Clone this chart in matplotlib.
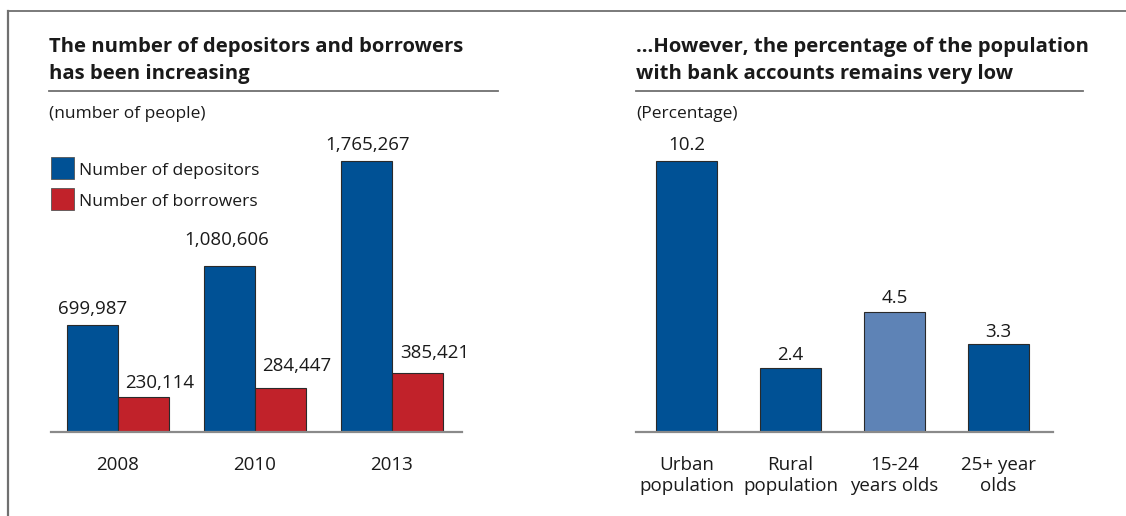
import matplotlib
matplotlib.use("Agg")
import matplotlib.pyplot as plt
from matplotlib.patches import Rectangle
from matplotlib.lines import Line2D

plt.rcParams['font.family'] = ['Open Sans', 'DejaVu Sans']

# Data
years = ["2008", "2010", "2013"]
depositors = [699987, 1080606, 1765267]
borrowers = [230114, 284447, 385421]
series_names = ["Number of depositors", "Number of borrowers"]

groups = ["Urban\npopulation", "Rural\npopulation", "15-24\nyears olds", "25+ year\nolds"]
pct = [10.2, 2.4, 4.5, 3.3]

# label placement offsets (pixels): (dx, gap above bar to baseline)
dep_off = [(0, 11), (-3, 21), (1, 11)]
bor_off = [(16, 9), (16, 17), (17, 15)]
pct_off = [(0, 11), (0, 8), (0, 9), (0, 7)]

BLUE = "#005195"
RED = "#C1222A"
LIGHT = "#5E83B6"
EDGE = "#2a2a2a"
TXT = "#1a1a1a"
GRAY = "#707070"

W, H = 1126, 516
fig = plt.figure(figsize=(W / 100, H / 100), dpi=100)
PX = 0.72  # points per pixel


def fx(px):
    return px / W


def fy(py):
    return 1 - py / H


# Frame lines
fig.add_artist(Line2D([fx(8), fx(1126)], [fy(11), fy(11)], color=GRAY, lw=1.3))
fig.add_artist(Line2D([fx(8), fx(8)], [fy(11), fy(516)], color=GRAY, lw=1.6))

LABEL_FS = 13.5
TITLE_FS = 14.6

# ---------- Left panel ----------
base_y, top_y = 432, 100
axL = fig.add_axes([fx(51), fy(base_y), fx(462) - fx(51), (base_y - top_y) / H])
ymaxL = max(depositors) * (base_y - top_y) / 271.0
axL.set_ylim(0, ymaxL)
axL.set_xlim(-0.489, 2.511)
bw = 0.37
x = list(range(len(years)))
b1 = axL.bar([i - bw / 2 for i in x], depositors, width=bw, color=BLUE, edgecolor=EDGE, linewidth=0.8,
             label=series_names[0])
b2 = axL.bar([i + bw / 2 for i in x], borrowers, width=bw, color=RED, edgecolor=EDGE, linewidth=0.8,
             label=series_names[1])
for bars, vals, offs in ((b1, depositors, dep_off), (b2, borrowers, bor_off)):
    for r, v, (dx, dy) in zip(bars, vals, offs):
        axL.annotate(f"{v:,}", (r.get_x() + r.get_width() / 2, v), xytext=(dx * PX, dy * PX),
                     textcoords="offset points", ha="center", va="baseline", fontsize=LABEL_FS, color=TXT)
for s in ("top", "right", "left"):
    axL.spines[s].set_visible(False)
axL.spines["bottom"].set_color("#8a8a8a")
axL.spines["bottom"].set_linewidth(1.6)
axL.set_yticks([])
axL.set_xticks(x)
axL.set_xticklabels(years, fontsize=LABEL_FS, color=TXT)
axL.tick_params(axis="x", length=0, pad=17)

fig.text(fx(49), fy(52), "The number of depositors and borrowers", fontsize=TITLE_FS,
         fontweight="bold", color=TXT, ha="left", va="baseline")
fig.text(fx(49), fy(79), "has been increasing", fontsize=TITLE_FS,
         fontweight="bold", color=TXT, ha="left", va="baseline")
fig.add_artist(Line2D([fx(49), fx(498)], [fy(91), fy(91)], color=GRAY, lw=1.3))
fig.text(fx(49), fy(118), "(number of people)", fontsize=12.5, color=TXT, ha="left", va="baseline")

# Legend
for name, col, ytop, ybase in ((series_names[0], BLUE, 157, 175), (series_names[1], RED, 188, 206)):
    fig.add_artist(Rectangle((fx(51), fy(ytop + 22)), fx(23), 22 / H, facecolor=col, edgecolor="#555555", lw=0.6))
    fig.text(fx(79), fy(ybase), name, fontsize=12.6, color=TXT, ha="left", va="baseline")

# ---------- Right panel ----------
axR = fig.add_axes([fx(636), fy(base_y), fx(1053) - fx(636), (base_y - top_y) / H])
ymaxR = max(pct) * (base_y - top_y) / 271.0
axR.set_ylim(0, ymaxR)
axR.set_xlim(-0.486, 3.524)
xr = list(range(len(groups)))
cols = [BLUE, BLUE, LIGHT, BLUE]
bars = axR.bar(xr, pct, width=0.587, color=cols, edgecolor=EDGE, linewidth=0.8)
for r, v, (dx, dy) in zip(bars, pct, pct_off):
    axR.annotate(f"{v}", (r.get_x() + r.get_width() / 2, v), xytext=(dx * PX, dy * PX), textcoords="offset points",
                 ha="center", va="baseline", fontsize=LABEL_FS, color=TXT)
for s in ("top", "right", "left"):
    axR.spines[s].set_visible(False)
axR.spines["bottom"].set_color("#8a8a8a")
axR.spines["bottom"].set_linewidth(1.6)
axR.set_yticks([])
axR.set_xticks(xr)
axR.set_xticklabels(groups, fontsize=LABEL_FS, color=TXT, linespacing=1.25)
axR.tick_params(axis="x", length=0, pad=17)

fig.text(fx(636), fy(52), "...However, the percentage of the population", fontsize=TITLE_FS,
         fontweight="bold", color=TXT, ha="left", va="baseline")
fig.text(fx(636), fy(79), "with bank accounts remains very low", fontsize=TITLE_FS,
         fontweight="bold", color=TXT, ha="left", va="baseline")
fig.add_artist(Line2D([fx(636), fx(1083)], [fy(91), fy(91)], color=GRAY, lw=1.3))
fig.text(fx(636), fy(118), "(Percentage)", fontsize=12.5, color=TXT, ha="left", va="baseline")

fig.savefig("out.png", dpi=100)
